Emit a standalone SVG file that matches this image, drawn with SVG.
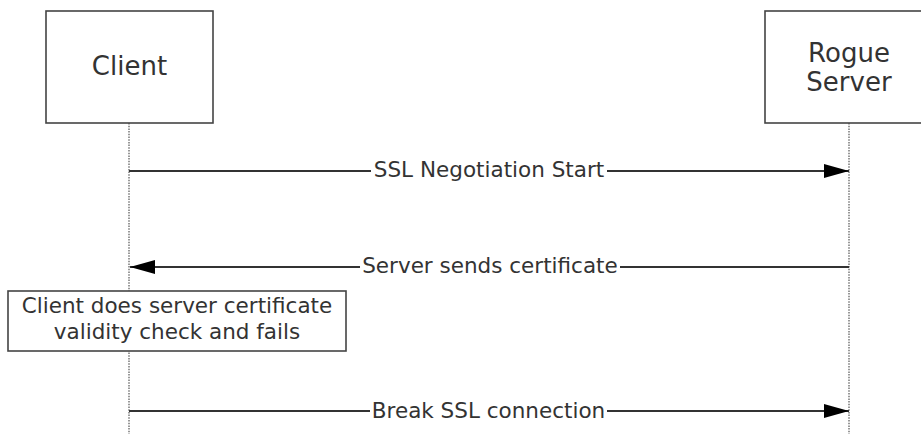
<svg xmlns="http://www.w3.org/2000/svg" width="921" height="434" viewBox="0 0 921 434">
<defs>
<style>
.box{fill:#fff;stroke:#444;stroke-width:1.6}
.life{stroke:#777;stroke-width:1.5;stroke-dasharray:1.5 1.2;fill:none}
.msg{stroke:#333;stroke-width:2;fill:none}
.hd{font-family:"DejaVu Sans",Verdana,sans-serif;font-size:26px;fill:#333;text-anchor:middle}
.lb{font-family:"DejaVu Sans",Verdana,sans-serif;font-size:21.5px;fill:#333;text-anchor:middle}
.bg{fill:#fff}
</style>
<marker id="ah" markerWidth="25" markerHeight="14" refX="25" refY="7" orient="auto" markerUnits="userSpaceOnUse">
<path d="M0,0 L25,7 L0,14 Z" fill="#000"/>
</marker>
</defs>
<rect width="921" height="434" fill="#fff"/>
<g id="lifelines">
<line class="life" x1="129" y1="123" x2="129" y2="434"/>
<line class="life" x1="849" y1="123" x2="849" y2="434"/>
</g>
<g id="client">
<rect class="box" x="46" y="11" width="167" height="112"/>
<text class="hd" x="129.5" y="75">Client</text>
</g>
<g id="rogue-server">
<rect class="box" x="765" y="11" width="168" height="112"/>
<text class="hd" x="849" y="62">Rogue</text>
<text class="hd" x="849" y="91">Server</text>
</g>
<g id="connectors">
<line class="msg" x1="129" y1="171" x2="849" y2="171" marker-end="url(#ah)"/>
<rect class="bg" x="371" y="160" width="236" height="22"/>
<text class="lb" x="489" y="177">SSL Negotiation Start</text>
<line class="msg" x1="849" y1="267" x2="130" y2="267" marker-end="url(#ah)"/>
<rect class="bg" x="360" y="256" width="260" height="22"/>
<text class="lb" x="490" y="273">Server sends certificate</text>
<line class="msg" x1="129" y1="411" x2="849" y2="411" marker-end="url(#ah)"/>
<rect class="bg" x="370" y="400" width="237" height="22"/>
<text class="lb" x="488.5" y="418">Break SSL connection</text>
</g>
<g id="note">
<rect class="box" x="8" y="291" width="338" height="60"/>
<text class="lb" x="177" y="313">Client does server certificate</text>
<text class="lb" x="177" y="339">validity check and fails</text>
</g>
</svg>
